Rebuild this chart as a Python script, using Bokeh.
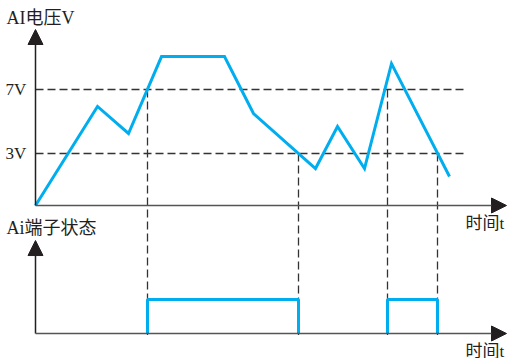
from bokeh.plotting import figure
from bokeh.models import Range1d, Arrow, NormalHead, ColumnDataSource
from bokeh.core.properties import value
from bokeh.embed import file_html
from bokeh.resources import INLINE

# ---- data ----
# AI voltage curve: time (arbitrary units) and voltage (V)
curve_t = [0, 6.2, 9.3, 12.6, 18.9, 21.8, 28.0, 30.2, 32.9, 35.6, 41.4]
curve_v = [-0.25, 5.94, 4.25, 9.06, 9.06, 5.5, 2.06, 4.69, 2.06, 8.62, 1.56]
thresholds = [7, 3]
threshold_labels = ["7V", "3V"]
# switching instants and the threshold that triggers each
switch_t = [11.2, 26.3, 35.2, 40.2]
switch_v = [7, 3, 7, 3]
# terminal state pulses (on, off)
pulse_on = [11.2, 35.2]
pulse_off = [26.3, 40.2]
title_top = "AI电压V"
title_bottom = "Ai端子状态"
time_label = "时间t"

# ---- layout constants ----
T_END_DASH = 42.8
T_AXIS_END = 47.1
V_ORIGIN = -0.25
V_TOP_TIP = 10.75
BOT_BASE = -8.25
BOT_SCALE = 2.125
BOT_TIP = -2.44

BLUE = "#00AEEF"
DARK = "#231f20"
GRAY = "#555555"
FONT = value("Liberation Serif, Noto Sans CJK SC")

p = figure(width=507, height=358, x_range=Range1d(-3.5, 47.2),
           y_range=Range1d(-9.8125, 12.5625), output_backend="svg",
           toolbar_location=None, min_border=0, x_axis_type=None,
           y_axis_type=None)
p.grid.visible = False
p.outline_line_color = None
p.background_fill_color = "white"

# dashed threshold lines
for th in thresholds:
    p.line([0, T_END_DASH], [th, th], line_color="#333333", line_width=1.3,
           line_dash="8 4")
# dashed vertical switching lines
p.segment(x0=switch_t, y0=switch_v, x1=switch_t, y1=[BOT_BASE - 0.1] * len(switch_t),
          line_color="#333333", line_width=1.3, line_dash="8 4")

# axes with arrows
head = lambda: NormalHead(size=15, fill_color=DARK, line_color=DARK)
p.add_layout(Arrow(end=head(), x_start=0, y_start=V_ORIGIN, x_end=0, y_end=V_TOP_TIP,
                   line_color=DARK, line_width=1.5))
p.add_layout(Arrow(end=head(), x_start=0, y_start=V_ORIGIN, x_end=T_AXIS_END, y_end=V_ORIGIN,
                   line_color=GRAY, line_width=1.5))
p.add_layout(Arrow(end=head(), x_start=0, y_start=BOT_BASE, x_end=0, y_end=BOT_TIP,
                   line_color=DARK, line_width=1.5))
p.add_layout(Arrow(end=head(), x_start=0, y_start=BOT_BASE, x_end=T_AXIS_END, y_end=BOT_BASE,
                   line_color=GRAY, line_width=1.5))

# voltage curve
p.line(curve_t, curve_v, line_color=BLUE, line_width=3, line_join="miter")

# state pulses
xs, ys = [], []
for on, off in zip(pulse_on, pulse_off):
    xs.append([on, on, off, off])
    ys.append([BOT_BASE + s * BOT_SCALE for s in (0, 1, 1, 0)])
p.multi_line(xs, ys, line_color=BLUE, line_width=3)

# labels
src = ColumnDataSource(dict(
    x=[-2.9, -3.0, -3.0, -2.9, 43.0, 43.0],
    y=[11.5, thresholds[0], thresholds[1], -1.625, -1.375, -9.375],
    text=[title_top, threshold_labels[0], threshold_labels[1], title_bottom,
          time_label, time_label],
    size=["18px", "17px", "17px", "18px", "17px", "17px"],
))
p.text(x="x", y="y", text="text", source=src, text_font=FONT,
       text_font_size="size", text_color=DARK, text_align="left",
       text_baseline="middle")

open("out.html", "w").write(file_html(p, INLINE))
